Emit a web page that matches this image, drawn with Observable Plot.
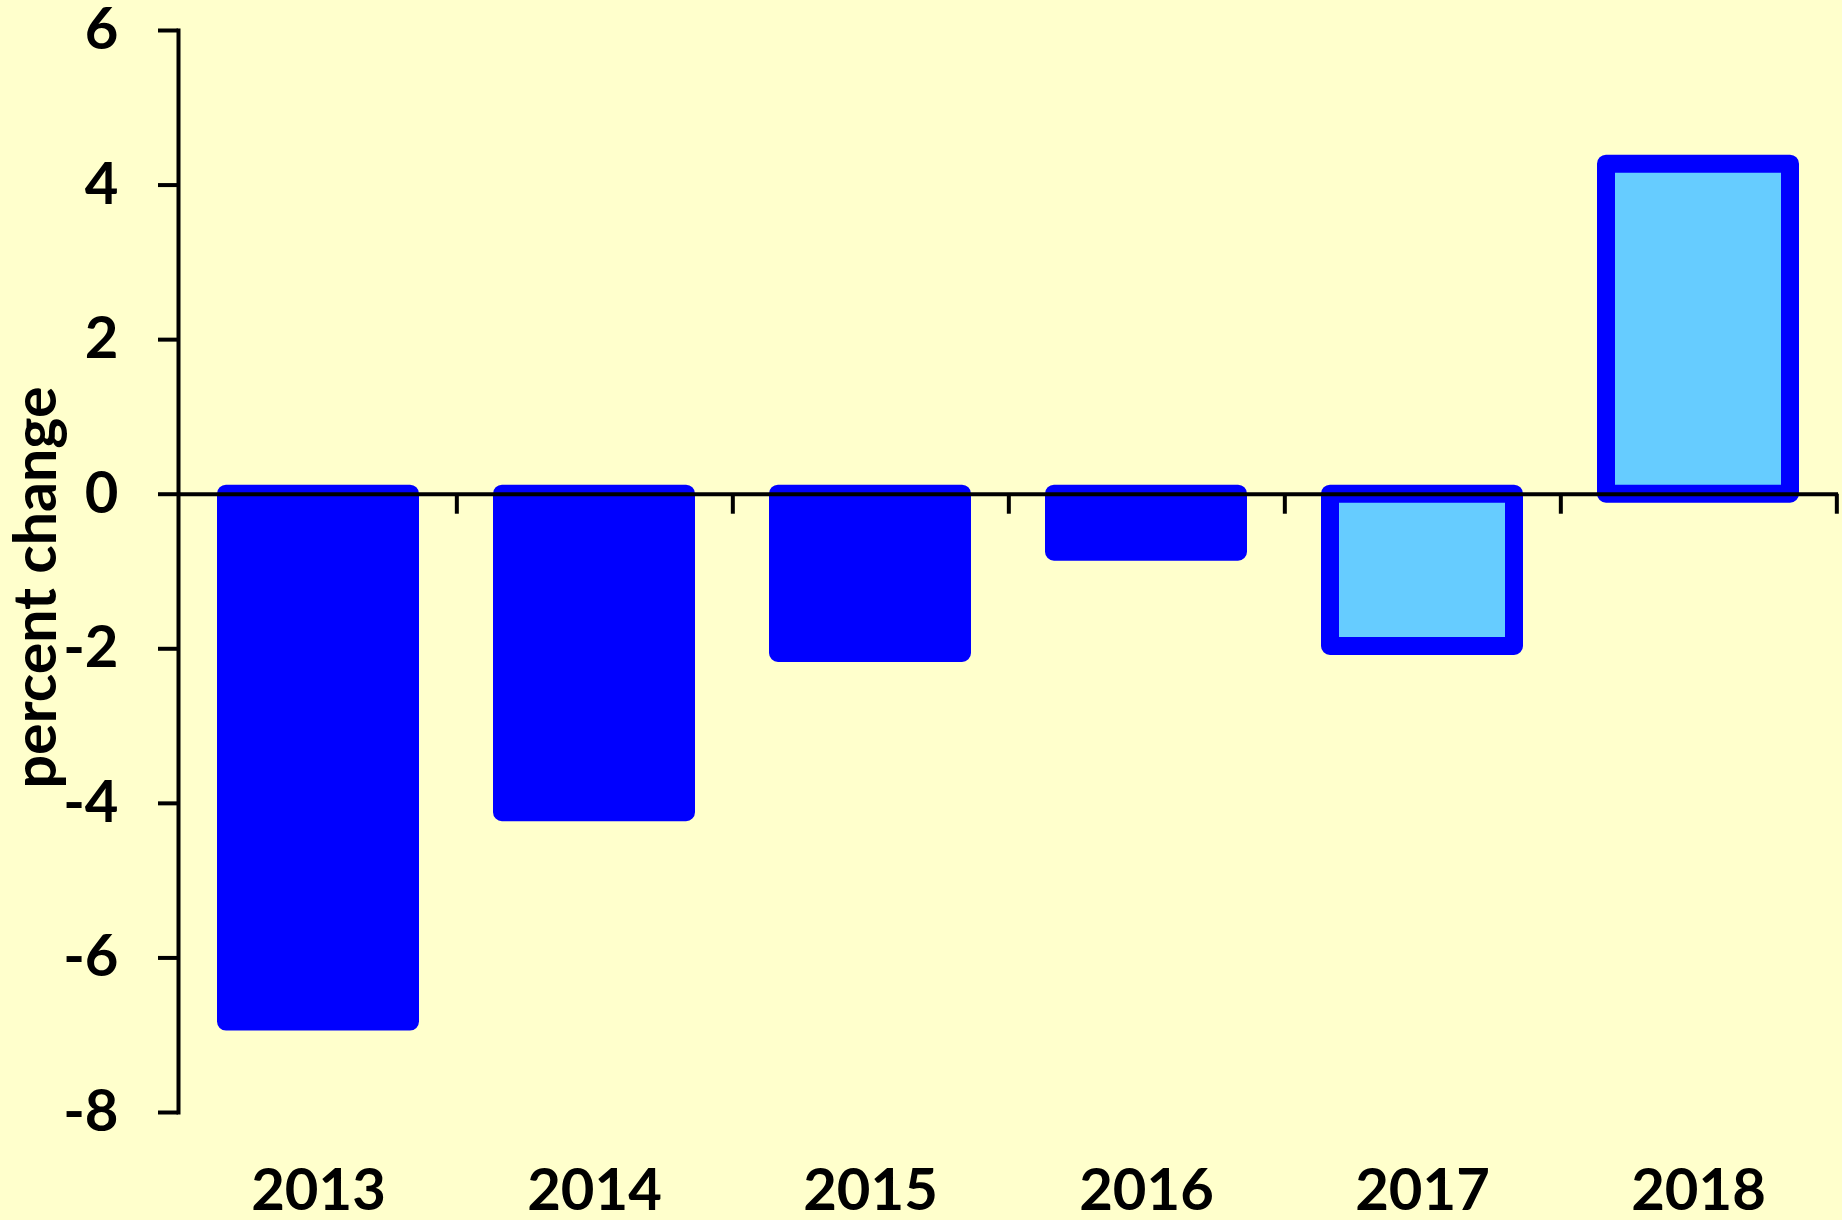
<!DOCTYPE html>
<html>
<head>
<meta charset="utf-8">
<script src="https://cdn.jsdelivr.net/npm/d3@7"></script>
<script src="https://cdn.jsdelivr.net/npm/@observablehq/plot@0.6"></script>
<style>
  html, body { margin: 0; padding: 0; background: #FFFFCC; }
  #chart svg { display: block; }
</style>
</head>
<body>
<div id="chart"></div>
<script>
const years = ["2013", "2014", "2015", "2016", "2017", "2018"];
const values = [-6.83, -4.12, -2.06, -0.75, -1.97, 4.27];
const kinds = ["actual", "actual", "actual", "actual", "forecast", "forecast"];
const kindDomain = ["actual", "forecast"];
const kindColors = ["#0000FF", "#66CCFF"];
const yTicks = [-8, -6, -4, -2, 0, 2, 4, 6];
const yLabel = "percent change";

const data = years.map((year, i) => ({year, value: values[i], kind: kinds[i]}));

const width = 1842, height = 1220;
const marginLeft = 178, marginRight = 4, marginTop = 30, marginBottom = 108;
const step = (width - marginLeft - marginRight) / years.length;

const chart = Plot.plot({
  width, height, marginLeft, marginRight, marginTop, marginBottom,
  style: {background: "#FFFFCC", fontFamily: "Lato, 'Open Sans', sans-serif", fontWeight: "bold", fontSize: "58px", color: "black"},
  x: {domain: years, paddingInner: 0.334, paddingOuter: 0.167, label: null},
  y: {domain: [-8, 6], label: null},
  color: {domain: kindDomain, range: kindColors},
  marks: [
    Plot.frame({anchor: "left", stroke: "black", strokeWidth: 4}),
    Plot.axisY({ticks: yTicks, tickSize: 20, tickPadding: 40, strokeWidth: 4, tickFormat: d => String(d), label: null}),
    Plot.axisX({tickSize: 0, tickPadding: 56, label: null}),
    Plot.rectY(data, {x: "year", y: "value", fill: "kind", stroke: "#0000FF", strokeWidth: 18, strokeLinejoin: "round"}),
    Plot.ruleY([0], {stroke: "black", strokeWidth: 4}),
    Plot.ruleX(years, {x: d => d, y1: 0, y2: 0, insetBottom: -20, dx: step / 2, stroke: "black", strokeWidth: 4}),
    Plot.text([yLabel], {text: d => d, frameAnchor: "left", textAnchor: "middle", lineAnchor: "middle", rotate: -90, dx: -141, dy: 16, fontSize: 59, fontWeight: "bold", fill: "black"})
  ]
});
document.getElementById("chart").appendChild(chart);
</script>
</body>
</html>
